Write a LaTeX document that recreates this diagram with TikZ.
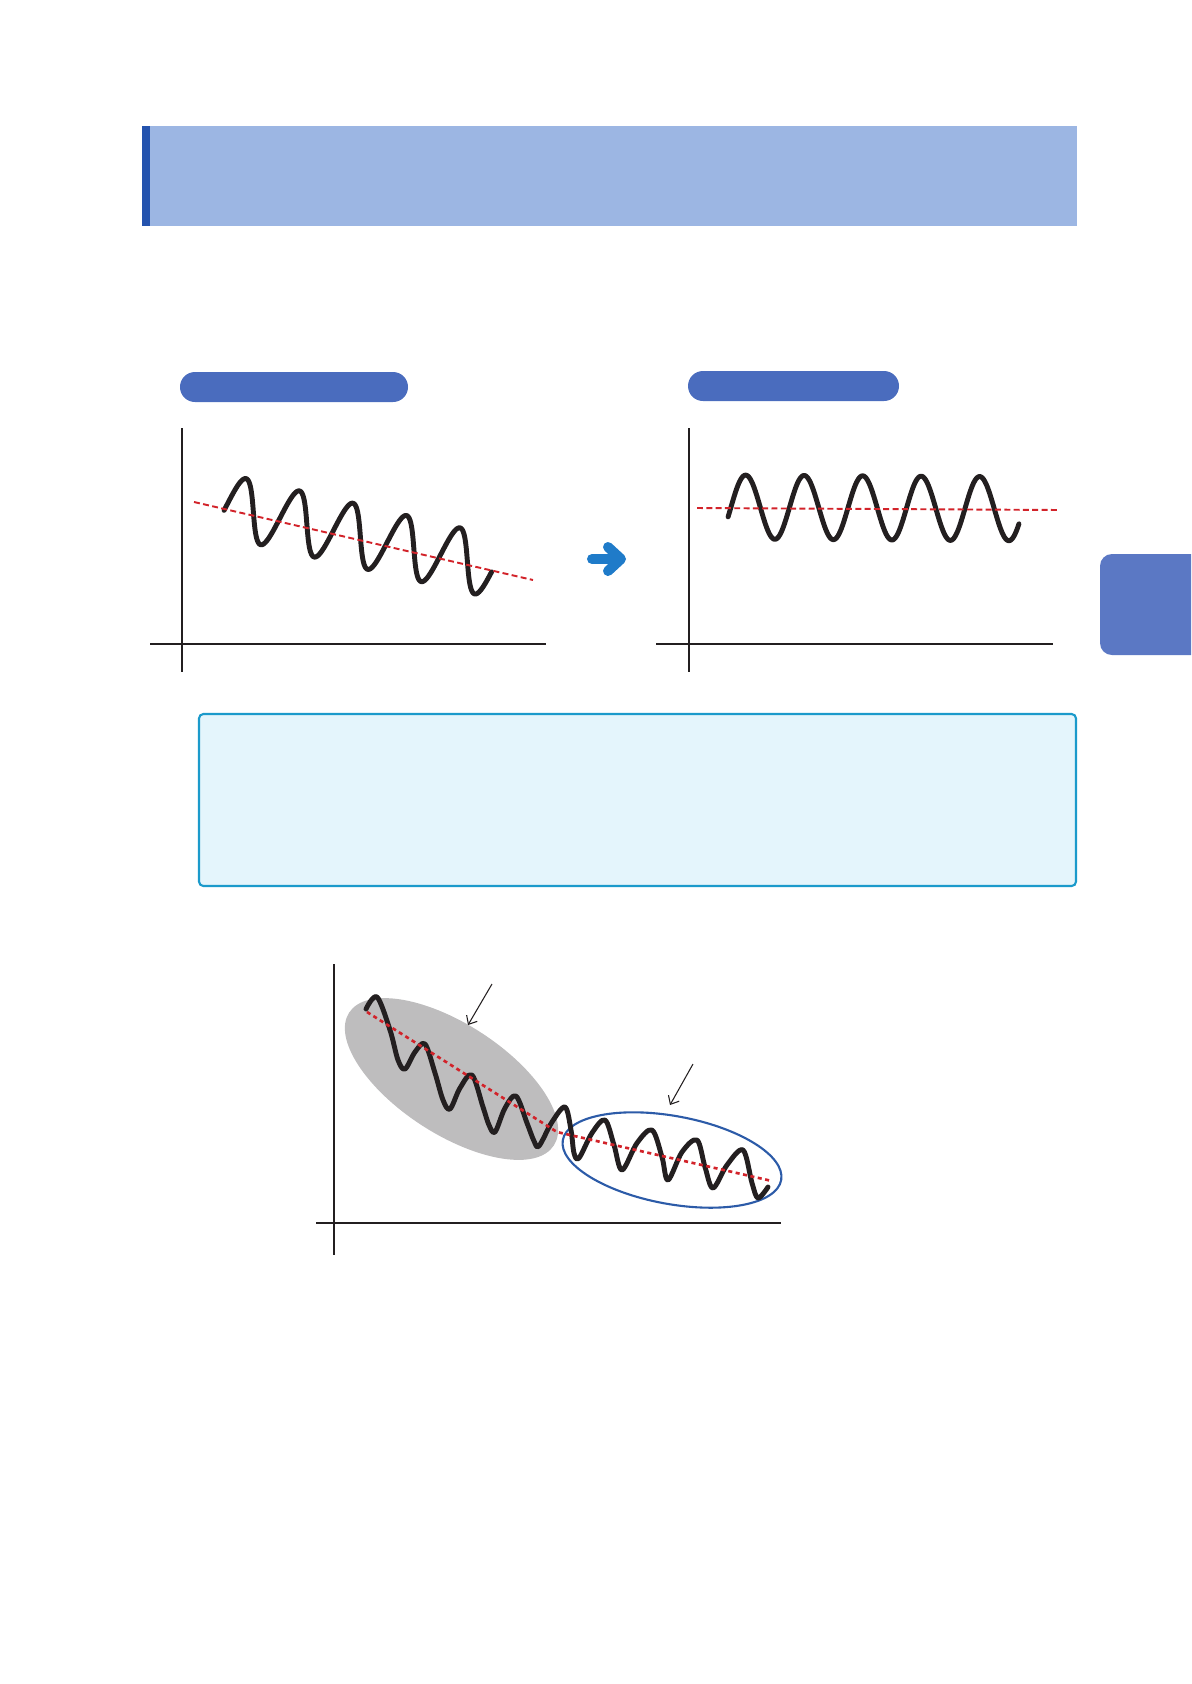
\documentclass[tikz,border=0pt]{standalone}
\usetikzlibrary{arrows.meta}

\definecolor{barblue}{HTML}{9CB6E3}
\definecolor{stripblue}{HTML}{2453AE}
\definecolor{pillblue}{HTML}{4A6CBE}
\definecolor{tabblue}{HTML}{5B78C4}
\definecolor{boxfill}{HTML}{E4F5FC}
\definecolor{boxline}{HTML}{1B9ACB}
\definecolor{arrowblue}{HTML}{1F7BC9}
\definecolor{trendred}{HTML}{D2232A}
\definecolor{blobgray}{HTML}{BEBDBE}
\definecolor{ringblue}{HTML}{2C5BA8}
\definecolor{inkblack}{HTML}{231F20}

\tikzset{
  axis/.style={inkblack, line width=1.2pt},
  wave/.style={inkblack, line width=2.8pt, line join=round, line cap=round},
  trend/.style={trendred, line width=1.1pt, dash pattern=on 3.4pt off 1.9pt},
  pill/.style={fill=pillblue, rounded corners=8.5pt},
  pointer/.style={inkblack, line width=0.6pt, -{Straight Barb[length=4pt,width=7pt]}},
}

\begin{document}
\begin{tikzpicture}[x=0.02cm, y=-0.02cm]
        \useasboundingbox (0,0) rectangle (1191,1684);

        % header bar
        \fill[barblue] (142,126) rectangle (1077,226);
        \fill[stripblue] (142,126) rectangle (150,226);

        % the two pills
        \fill[pill] (180,372) rectangle (408,402);
        \fill[pill] (688,371) rectangle (899,401);

        % left graph
        \draw[axis] (182,428) -- (182,672);
        \draw[axis] (150,644) -- (546,644);
        \draw[wave] plot[domain=-10:1790, samples=300, variable=\t]
            ({226.6+\t/360*53.5+6*sin(\t)}, {505.5+0.0342*\t-30*sin(\t)});
        \draw[trend] (194,502) -- (533,580);

        % arrow between the graphs
        \draw[arrowblue, line width=5.7pt, line cap=round] (592,559) -- (620,559);
        \draw[arrowblue, line width=5.7pt, line cap=round, line join=round] (608,547) -- (621,559) -- (608,571);

        % right graph
        \draw[axis] (689,428) -- (689,672);
        \draw[axis] (656,644) -- (1053,644);
        \draw[wave] plot[domain=-18:1772, samples=300, variable=\t]
            ({731+\t/360*58.5}, {507+0.001*\t-32*sin(\t)});
        \draw[trend] (697,508) -- (1060,510);

        % side tab
        \begin{scope}
            \clip (0,0) rectangle (1191,1684);
            \fill[tabblue, rounded corners=6.8pt] (1100,554) rectangle (1215,655);
        \end{scope}

        % info box
        \draw[boxline, fill=boxfill, line width=1.2pt, rounded corners=2.5pt] (199,714) rectangle (1076,886);

        % bottom graph
        \fill[blobgray] (451.5,1079) ellipse [x radius=122, y radius=55, rotate=-33];
        \draw[ringblue, line width=1.2pt] (672,1160) ellipse [x radius=111, y radius=44, rotate=-10.4];
        \draw[axis] (334,964) -- (334,1255);
        \draw[axis] (316,1223) -- (781,1223);
        \draw[wave] plot[smooth, tension=0.55] coordinates {
            (366,1009) (377,997) (390,1030) (398,1060) (405,1069)
            (415,1052) (425,1044) (435,1073) (443,1100) (450,1109)
            (460,1088) (472,1075) (483,1107) (489,1125) (495,1132)
            (505,1108) (516,1096) (527,1123) (534,1141) (539,1146)
            (552,1122) (565,1107) (571,1130) (574,1153) (579,1158)
            (592,1133) (605,1120) (614,1145) (622,1170)
            (637,1143) (652,1130) (662,1157) (668,1180)
            (682,1152) (697,1140) (705,1167) (713,1188)
            (727,1165) (743,1150) (752,1183) (758,1198) (768,1187)};
        \draw[trend, line width=1.5pt, dash pattern=on 2.3pt off 2pt] (367,1012) -- (557,1132) -- (772,1181);

        % pointers
        \coordinate (tailA) at (492,984);
        \coordinate (tipA) at (468,1025);
        \coordinate (tailB) at (693,1064);
        \coordinate (tipB) at (670,1105);
        \draw[pointer] (tailA) -- (tipA);
        \draw[pointer] (tailB) -- (tipB);
\end{tikzpicture}
\end{document}
